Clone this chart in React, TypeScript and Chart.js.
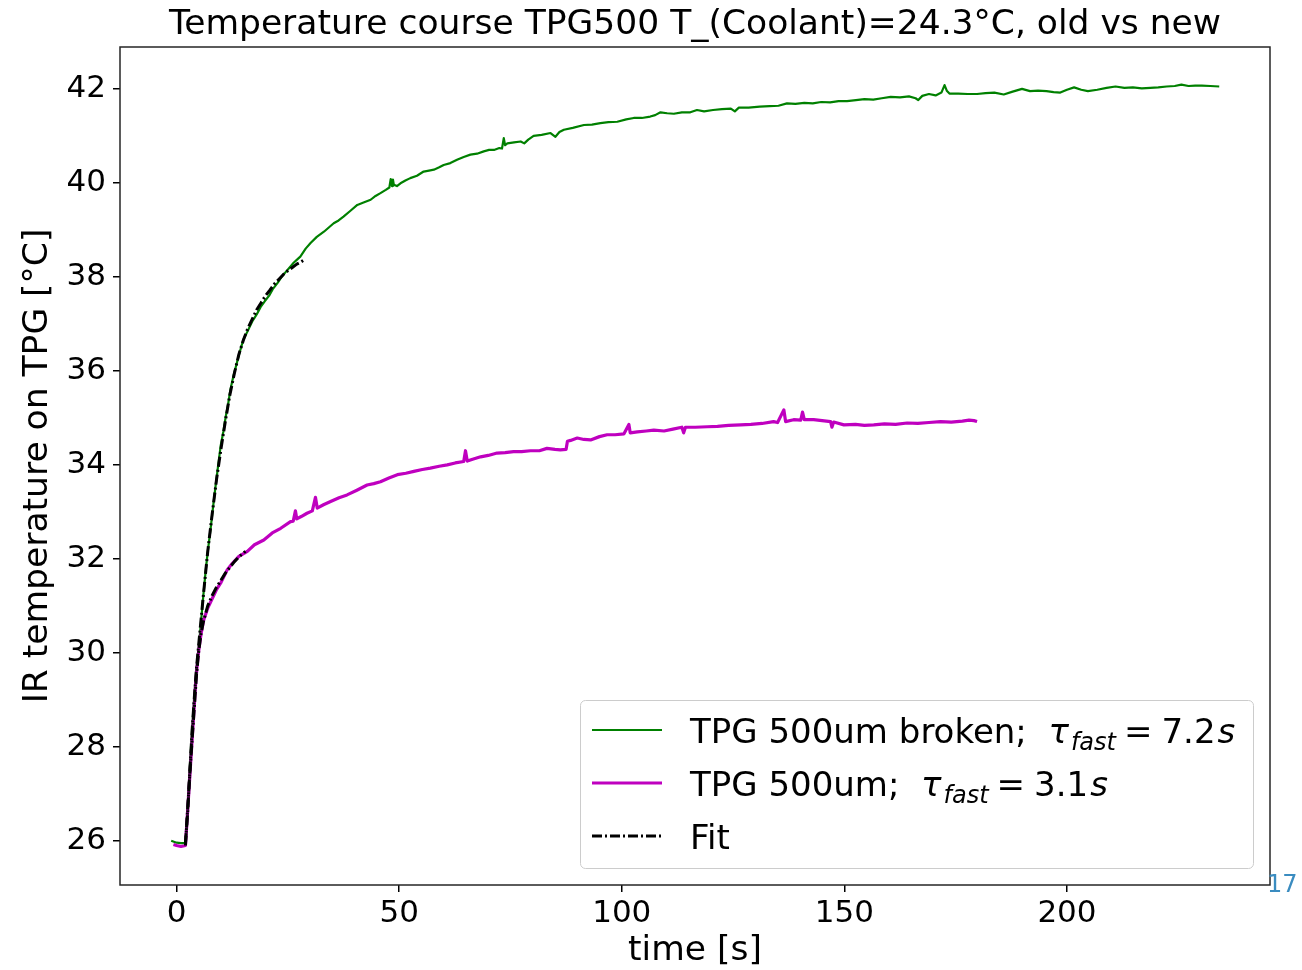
import { useEffect, useRef } from "react";
import { Chart, registerables } from "chart.js";

Chart.register(...registerables);

const TITLE = "Temperature course TPG500 T_(Coolant)=24.3°C, old vs new";
const X_LABEL = "time [s]";
const Y_LABEL = "IR temperature on TPG [°C]";
const CORNER_NOTE = "17";

const X_TICKS = [0, 50, 100, 150, 200];
const Y_TICKS = [26, 28, 30, 32, 34, 36, 38, 40, 42];
const X_RANGE = [-12.7, 245.6];
const Y_RANGE = [25.06, 42.89];

// TPG 500um broken (old)
const BROKEN_T = [
  -1.2, 0.0, 1.0, 2.0, 2.5, 3.0, 3.5, 4.0, 4.4, 5.0, 5.4, 6.0, 6.5, 7.0, 7.6, 8.2, 8.7, 9.3, 9.9, 10.5,
  11.0, 11.6, 12.1, 12.8, 13.5, 14.2, 15.0, 16.0, 17.0, 18.0, 18.9, 19.8, 20.8, 21.7, 22.7, 23.6, 24.5, 25.4, 26.3, 27.0,
  27.8, 29.0, 30.1, 31.5, 33.1, 34.2, 35.3, 36.4, 37.5, 39.0, 40.6, 42.0, 43.6, 44.7, 45.8, 47.0, 47.8, 48.1, 48.4, 48.6,
  48.8, 49.5, 50.3, 51.4, 52.5, 54.0, 55.5, 56.7, 57.8, 59.0, 60.0, 61.5, 63.0, 64.5, 66.0, 67.5, 69.0, 70.2, 71.3, 72.5,
  73.1, 73.5, 73.8, 74.3, 75.8, 77.3, 78.1, 79.0, 80.2, 82.0, 84.0, 85.1, 86.0, 87.0, 89.0, 91.5, 93.3, 95.2, 97.0, 99.0,
  101.0, 102.7, 104.5, 106.4, 107.5, 108.7, 110.2, 111.7, 113.5, 115.4, 116.9, 118.5, 120.5, 122.5, 124.5, 125.4, 126.3, 128.5, 131.0, 133.2,
  135.2, 137.1, 139.0, 141.0, 142.9, 144.8, 146.8, 148.7, 150.6, 152.6, 154.5, 156.5, 158.4, 160.4, 162.5, 164.5, 166.0, 166.6, 167.5, 169.0,
  170.5, 171.8, 172.5, 173.0, 173.6, 175.6, 177.7, 179.8, 181.7, 183.7, 185.8, 187.8, 189.9, 191.7, 193.5, 195.4, 197.0, 198.5, 200.0, 201.6,
  203.2, 204.7, 206.8, 208.9, 210.9, 212.9, 214.8, 216.8, 218.7, 220.5, 222.4, 224.2, 225.7, 227.3, 228.8, 230.3, 232.2, 234.2,
];
const BROKEN_Y = [
  26.0, 25.96, 25.95, 25.95, 26.7, 27.6, 28.4, 29.1, 29.6, 30.15, 30.55, 31.2, 31.7, 32.15, 32.6, 33.1, 33.5, 33.95, 34.4, 34.7,
  35.0, 35.3, 35.6, 35.9, 36.15, 36.4, 36.66, 36.85, 37.05, 37.2, 37.36, 37.48, 37.6, 37.75, 37.87, 38.0, 38.1, 38.2, 38.3, 38.36,
  38.43, 38.6, 38.72, 38.85, 38.96, 39.05, 39.14, 39.2, 39.28, 39.4, 39.53, 39.58, 39.64, 39.72, 39.78, 39.85, 39.9, 40.08, 39.93, 40.07,
  39.96, 39.93, 39.99, 40.05, 40.1, 40.15, 40.24, 40.26, 40.28, 40.33, 40.38, 40.42, 40.49, 40.55, 40.6, 40.62, 40.67, 40.7, 40.7, 40.74,
  40.73, 40.95, 40.8, 40.84, 40.86, 40.88, 40.84, 40.92, 41.0, 41.02, 41.06, 40.98, 41.08, 41.13, 41.17, 41.23, 41.24, 41.27, 41.29, 41.3,
  41.35, 41.38, 41.38, 41.41, 41.44, 41.5, 41.48, 41.47, 41.5, 41.5, 41.55, 41.52, 41.55, 41.57, 41.58, 41.52, 41.6, 41.6, 41.62, 41.63,
  41.64, 41.69, 41.68, 41.7, 41.69, 41.72, 41.71, 41.74, 41.74, 41.76, 41.78, 41.77, 41.8, 41.83, 41.82, 41.84, 41.8, 41.76, 41.85, 41.89,
  41.86, 41.92, 42.08, 41.96, 41.9, 41.9, 41.89, 41.89, 41.91, 41.92, 41.88, 41.94, 42.0, 41.95, 41.96, 41.95, 41.93, 41.92, 41.98, 42.03,
  41.98, 41.95, 41.98, 42.02, 42.05, 42.02, 42.03, 42.01, 42.02, 42.03, 42.05, 42.06, 42.09, 42.06, 42.07, 42.07, 42.06, 42.05,
];

// TPG 500um (new)
const NEW_T = [
  -0.7, 0.0, 1.0, 2.0, 2.4, 3.0, 3.5, 4.0, 4.3, 4.6, 5.0, 5.5, 6.1, 7.0, 8.0, 9.0, 10.0, 11.4, 12.5, 14.0,
  15.9, 17.5, 19.6, 21.5, 23.4, 25.6, 26.2, 26.7, 27.0, 28.0, 29.3, 30.5, 31.2, 31.6, 33.0, 34.6, 36.5, 38.3, 40.5, 42.8,
  44.3, 45.8, 47.7, 49.6, 51.5, 53.3, 55.2, 57.0, 59.0, 60.8, 62.6, 64.5, 64.9, 65.3, 66.5, 68.3, 70.0, 72.0, 73.8, 75.7,
  77.5, 79.5, 81.5, 83.2, 85.0, 86.2, 87.5, 87.8, 88.5, 90.0, 91.5, 93.0, 95.0, 96.7, 98.5, 100.5, 101.6, 101.9, 103.5, 105.5,
  107.2, 109.5, 111.5, 113.5, 113.9, 114.3, 116.5, 119.2, 121.5, 124.0, 126.7, 129.0, 131.5, 134.1, 135.0, 136.4, 136.8, 138.6, 140.2, 140.6,
  141.0, 143.1, 145.0, 146.9, 147.2, 147.6, 149.9, 152.5, 154.5, 156.6, 159.0, 161.5, 164.1, 166.5, 169.0, 171.6, 174.0, 176.5, 178.0, 179.1,
  179.8,
];
const NEW_Y = [
  25.92, 25.9, 25.88, 25.9, 26.5, 27.4, 28.15, 28.9, 29.36, 29.7, 30.06, 30.4, 30.7, 30.95, 31.15, 31.35, 31.5, 31.77, 31.9, 32.05,
  32.16, 32.3, 32.4, 32.55, 32.65, 32.79, 32.8, 33.02, 32.85, 32.9, 32.97, 33.02, 33.31, 33.08, 33.15, 33.22, 33.3, 33.36, 33.46, 33.57,
  33.6, 33.64, 33.72, 33.79, 33.82, 33.86, 33.9, 33.93, 33.97, 34.0, 34.04, 34.07, 34.3, 34.08, 34.12, 34.17, 34.2, 34.25, 34.26, 34.28,
  34.28, 34.3, 34.3, 34.35, 34.33, 34.32, 34.33, 34.5, 34.52, 34.57, 34.54, 34.53, 34.6, 34.64, 34.64, 34.66, 34.86, 34.68, 34.7, 34.72,
  34.74, 34.72, 34.76, 34.8, 34.68, 34.8, 34.8, 34.81, 34.82, 34.84, 34.85, 34.86, 34.88, 34.92, 34.9, 35.17, 34.92, 34.96, 34.95, 35.12,
  34.96, 34.96, 34.94, 34.92, 34.8, 34.91, 34.85, 34.86, 34.84, 34.85, 34.87, 34.86, 34.89, 34.88, 34.9, 34.92, 34.91, 34.93, 34.95, 34.94,
  34.92,
];

// Exponential fits over the fast rise
const FIT_BROKEN_T = [
  2.0, 2.5, 3.0, 3.5, 4.0, 4.5, 5.0, 5.5, 6.0, 7.0, 8.0, 9.0, 10.0, 11.0, 12.0, 13.0, 14.0, 15.0, 16.0, 17.0,
  18.0, 19.0, 20.0, 21.0, 22.0, 23.0, 24.0, 25.0, 26.0, 27.0, 28.0, 28.5,
];
const FIT_BROKEN_Y = [
  25.95, 26.6, 27.5, 28.35, 29.05, 29.7, 30.2, 30.7, 31.2, 32.15, 32.95, 33.7, 34.35, 34.95, 35.5, 35.95, 36.35, 36.65, 36.9, 37.1,
  37.3, 37.45, 37.6, 37.72, 37.85, 37.95, 38.05, 38.13, 38.2, 38.27, 38.32, 38.35,
];
const FIT_NEW_T = [2.0, 2.5, 3.0, 3.5, 4.0, 4.5, 5.0, 5.5, 6.0, 7.0, 8.0, 9.0, 10.0, 11.0, 12.0, 13.0, 14.0, 15.0, 15.5];
const FIT_NEW_Y = [
  25.9, 26.7, 27.45, 28.15, 28.85, 29.55, 30.05, 30.4, 30.65, 31.0, 31.22, 31.4, 31.55, 31.7, 31.82, 31.94, 32.04, 32.12, 32.16,
];

const SERIES_BROKEN = { label: "TPG 500um broken;", tau: "7.2", color: "#008000", width: 2.2 };
const SERIES_NEW = { label: "TPG 500um;", tau: "3.1", color: "#bf00bf", width: 3.2 };
const SERIES_FIT = { label: "Fit", color: "#000000", width: 3, dash: [10, 3, 2, 3] };

const FONT = "'DejaVu Sans', 'Liberation Sans', sans-serif";

const toPoints = (xs: number[], ys: number[]) => xs.map((x, i) => ({ x, y: ys[i] }));

// Draws "τ_fast = v s" the way mathtext lays it out, starting at x on the given baseline
function drawTau(ctx: CanvasRenderingContext2D, x: number, baseline: number, value: string, size: number) {
  ctx.textAlign = "left";
  ctx.textBaseline = "alphabetic";
  ctx.font = `italic ${size}px ${FONT}`;
  ctx.fillText("τ", x, baseline);
  x += ctx.measureText("τ").width + 2;
  const sub = Math.round(size * 0.72);
  ctx.font = `italic ${sub}px ${FONT}`;
  ctx.fillText("fast", x, baseline + size * 0.22);
  x += ctx.measureText("fast").width + 8;
  ctx.font = `${size}px ${FONT}`;
  ctx.fillText("=", x, baseline);
  x += ctx.measureText("=").width + 9;
  ctx.fillText(value, x, baseline);
  x += ctx.measureText(value).width + 2;
  ctx.font = `italic ${size}px ${FONT}`;
  ctx.fillText("s", x, baseline);
}

const decorations = {
  id: "decorations",
  afterDraw(chart: Chart) {
    const { ctx, chartArea: a } = chart;
    ctx.save();

    // full axes frame
    ctx.strokeStyle = "#262626";
    ctx.lineWidth = 1.5;
    ctx.strokeRect(a.left, a.top, a.right - a.left, a.bottom - a.top);

    ctx.fillStyle = "#000";
    // title
    ctx.font = `34.5px ${FONT}`;
    ctx.textAlign = "center";
    ctx.textBaseline = "middle";
    ctx.fillText(TITLE, (a.left + a.right) / 2, 25);

    // axis titles
    ctx.font = `34.5px ${FONT}`;
    ctx.fillText(X_LABEL, (a.left + a.right) / 2, 951);
    ctx.save();
    ctx.translate(38, (a.top + a.bottom) / 2);
    ctx.rotate(-Math.PI / 2);
    ctx.fillText(Y_LABEL, 0, 0);
    ctx.restore();

    // legend
    const bx = 580.5, by = 700.5, bw = 673, bh = 168;
    ctx.beginPath();
    ctx.roundRect(bx, by, bw, bh, 5);
    ctx.fillStyle = "rgba(255,255,255,0.8)";
    ctx.fill();
    ctx.strokeStyle = "#cccccc";
    ctx.lineWidth = 1;
    ctx.stroke();

    const rows = [
      { s: SERIES_BROKEN, y: 730 },
      { s: SERIES_NEW, y: 783 },
      { s: SERIES_FIT, y: 836 },
    ];
    const size = 34;
    for (const r of rows) {
      const s: any = r.s;
      ctx.beginPath();
      ctx.strokeStyle = s.color;
      ctx.lineWidth = s.width;
      ctx.setLineDash(s.dash || []);
      ctx.moveTo(592, r.y);
      ctx.lineTo(662, r.y);
      ctx.stroke();
      ctx.setLineDash([]);

      ctx.fillStyle = "#000";
      ctx.font = `${size}px ${FONT}`;
      ctx.textAlign = "left";
      ctx.textBaseline = "alphabetic";
      const baseline = r.y + 12.5;
      ctx.fillText(s.label, 690, baseline);
      if (s.tau) {
        const w = ctx.measureText(s.label + "  ").width;
        drawTau(ctx, 690 + w, baseline, s.tau, size);
      }
    }

    // small page mark in the corner
    ctx.fillStyle = "#3a8cc0";
    ctx.font = `24px ${FONT}`;
    ctx.textAlign = "left";
    ctx.textBaseline = "middle";
    ctx.fillText(CORNER_NOTE, 1267, 886);

    ctx.restore();
  },
};

export default function App() {
  const ref = useRef<HTMLCanvasElement>(null);

  useEffect(() => {
    if (!ref.current) return;
    const tickFont = { family: FONT, size: 31 };
    const chart = new Chart(ref.current, {
      type: "line",
      data: {
        datasets: [
          {
            label: "Fit broken",
            data: toPoints(FIT_BROKEN_T, FIT_BROKEN_Y),
            borderColor: SERIES_FIT.color,
            borderWidth: SERIES_FIT.width,
            borderDash: SERIES_FIT.dash,
            pointRadius: 0,
            order: 0,
          },
          {
            label: "Fit new",
            data: toPoints(FIT_NEW_T, FIT_NEW_Y),
            borderColor: SERIES_FIT.color,
            borderWidth: SERIES_FIT.width,
            borderDash: SERIES_FIT.dash,
            pointRadius: 0,
            order: 0,
          },
          {
            label: SERIES_NEW.label,
            data: toPoints(NEW_T, NEW_Y),
            borderColor: SERIES_NEW.color,
            borderWidth: SERIES_NEW.width,
            pointRadius: 0,
            order: 1,
          },
          {
            label: SERIES_BROKEN.label,
            data: toPoints(BROKEN_T, BROKEN_Y),
            borderColor: SERIES_BROKEN.color,
            borderWidth: SERIES_BROKEN.width,
            pointRadius: 0,
            order: 2,
          },
        ],
      },
      options: {
        responsive: false,
        animation: false,
        devicePixelRatio: 1,
        layout: { padding: { top: 47, right: 32, left: 0, bottom: 0 } },
        elements: { line: { tension: 0, borderCapStyle: "butt", borderJoinStyle: "round" } },
        plugins: { legend: { display: false }, tooltip: { enabled: false }, title: { display: false } },
        scales: {
          x: {
            type: "linear",
            min: X_RANGE[0],
            max: X_RANGE[1],
            afterFit: (s: any) => {
              s.height = 85;
            },
            afterBuildTicks: (s: any) => {
              s.ticks = X_TICKS.map((v) => ({ value: v }));
            },
            border: { display: false },
            grid: { drawOnChartArea: false, drawTicks: true, tickLength: 7, color: "#000", lineWidth: 1.5 },
            ticks: { font: tickFont, color: "#000", padding: 3, maxRotation: 0, callback: (v: any) => String(v) },
          },
          y: {
            type: "linear",
            min: Y_RANGE[0],
            max: Y_RANGE[1],
            afterFit: (s: any) => {
              s.width = 120;
            },
            afterBuildTicks: (s: any) => {
              s.ticks = Y_TICKS.map((v) => ({ value: v }));
            },
            border: { display: false },
            grid: { drawOnChartArea: false, drawTicks: true, tickLength: 7, color: "#000", lineWidth: 1.5 },
            ticks: { font: tickFont, color: "#000", padding: 7, callback: (v: any) => String(v) },
          },
        },
      },
      plugins: [decorations],
    });
    return () => chart.destroy();
  }, []);

  return (
    <div style={{ position: "absolute", left: 0, top: 0, width: 1302, height: 970, background: "#fff" }}>
      <canvas ref={ref} width={1302} height={970} style={{ display: "block" }} />
    </div>
  );
}
